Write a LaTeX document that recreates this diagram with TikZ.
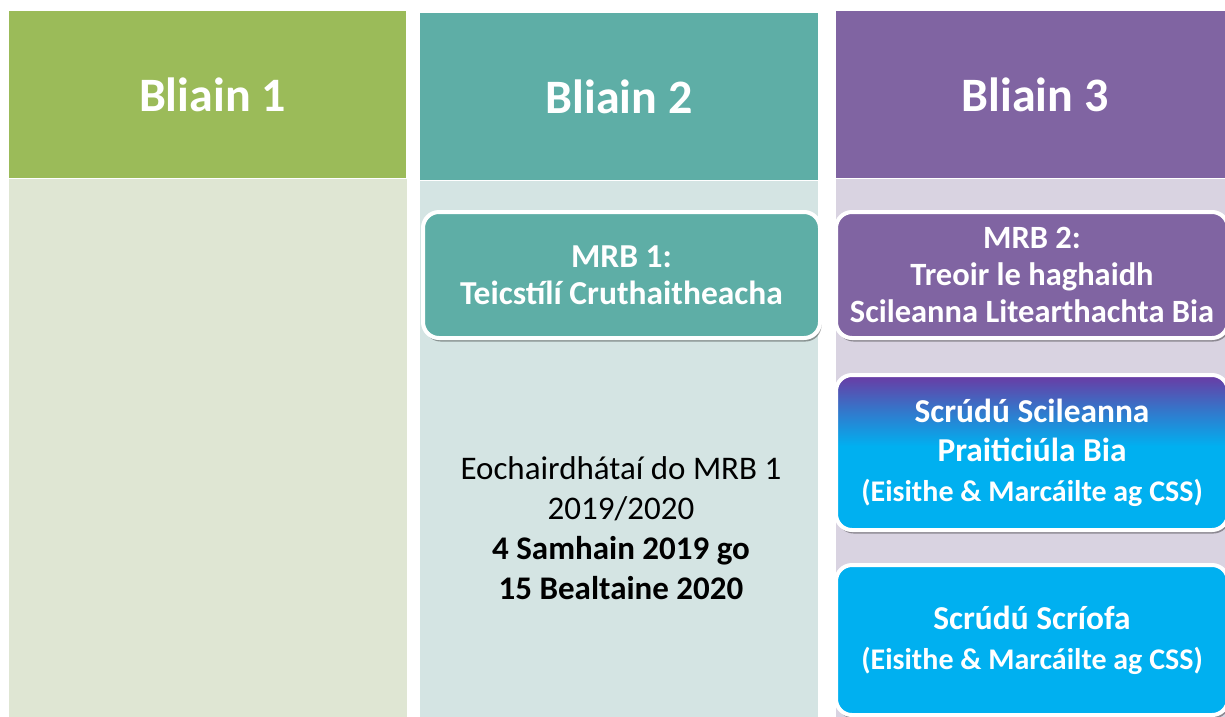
\documentclass[tikz,border=0pt]{standalone}
\usepackage{fontspec}
\setmainfont{Carlito}
\usetikzlibrary{shadows}
\definecolor{grnH}{HTML}{9BBB59}
\definecolor{grnB}{HTML}{DFE6D3}
\definecolor{tealH}{HTML}{5EAEA6}
\definecolor{tealB}{HTML}{D4E4E3}
\definecolor{purH}{HTML}{8064A2}
\definecolor{purB}{HTML}{D9D3E1}
\definecolor{cyanC}{HTML}{00B0F0}
\definecolor{purG}{HTML}{6B3AA3}
\pgfdeclareverticalshading{purplecyan}{100bp}{color(0bp)=(cyanC); color(25bp)=(cyanC); color(52bp)=(cyanC); color(64bp)=(cyanC!50!purG); color(75bp)=(purG); color(100bp)=(purG)}
\newcommand{\bigline}[1]{{\fontsize{33.4}{39.5}\selectfont #1}}
\tikzset{
  colbox/.style={anchor=north west, inner sep=0pt, outer sep=0pt},
  hdr/.style={colbox, text=white, font=\fontsize{48}{58}\selectfont\bfseries},
  card/.style={rounded corners=16pt, draw=white, line width=4pt, text=white, align=center,
    inner sep=0pt, outer sep=0pt, anchor=north west,
    font=\fontsize{33}{37.5}\selectfont\bfseries,
    drop shadow={shadow xshift=1.5pt, shadow yshift=-3.5pt, opacity=0.35, fill=black}},
  plain/.style={align=center, text=black, font=\fontsize{33}{40}\selectfont}
}
\begin{document}
\begin{tikzpicture}[x=1pt,y=-1pt]
\useasboundingbox[fill=white] (0,0) rectangle (1225,716);
% column 1
\node[hdr, fill=grnH, minimum width=397pt, minimum height=167pt] (h1) at (9,11) {\hspace*{10pt}Bliain 1};
\node[colbox, fill=grnB, minimum width=398pt, minimum height=540pt] (b1) at (9,179) {};
% column 2
\node[hdr, fill=tealH, minimum width=398pt, minimum height=167pt] (h2) at (420,13) {Bliain 2};
\node[colbox, fill=tealB, minimum width=398pt, minimum height=540pt] (b2) at (420,181) {};
% column 3
\node[hdr, fill=purH, minimum width=398pt, minimum height=167pt] (h3) at (836,11) {Bliain 3};
\node[colbox, fill=purB, minimum width=398pt, minimum height=540pt] (b3) at (836,179) {};
% cards
\node[card, fill=tealH, minimum width=397pt, minimum height=126pt,
  font=\fontsize{33.5}{37.5}\selectfont\bfseries] (m1) at (423,212)
  {MRB 1:\\Teicstílí Cruthaitheacha};
\node[plain] (dates) at (621,528)
  {Eochairdhátaí do MRB 1\\2019/2020\\\textbf{4 Samhain 2019 go}\\\textbf{15 Bealtaine 2020}};
\node[card, fill=purH, minimum width=392pt, minimum height=126pt,
  font=\fontsize{32.5}{37}\selectfont\bfseries] (m2) at (836,212)
  {MRB 2:\\Treoir le haghaidh\\Scileanna Litearthachta Bia};
\node[card, shading=purplecyan, minimum width=392pt, minimum height=155pt,
  font=\fontsize{30}{39.5}\selectfont\bfseries] (s1) at (836,375)
  {\bigline{Scrúdú Scileanna}\\\bigline{Praiticiúla Bia}\\(Eisithe \& Marcáilte ag CSS)};
\node[card, fill=cyanC, minimum width=392pt, minimum height=150pt,
  font=\fontsize{30}{40}\selectfont\bfseries] (s2) at (836,565)
  {\bigline{Scrúdú Scríofa}\\(Eisithe \& Marcáilte ag CSS)};
\end{tikzpicture}
\end{document}
